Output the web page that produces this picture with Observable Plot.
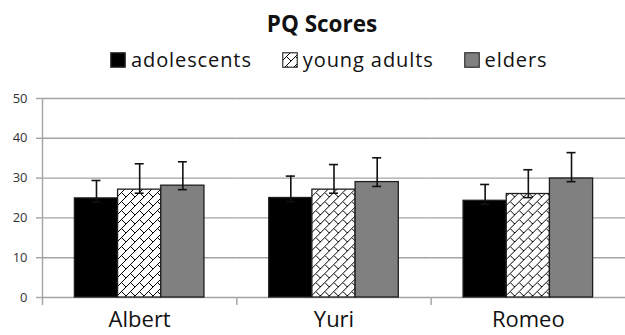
<!DOCTYPE html>
<html>
<head>
<meta charset="utf-8">
<script src="https://cdn.jsdelivr.net/npm/d3@7"></script>
<script src="https://cdn.jsdelivr.net/npm/@observablehq/plot@0.6"></script>
<style>
  html, body { margin: 0; padding: 0; background: #fff; }
  #page { position: relative; width: 625px; height: 335px; overflow: hidden; font-family: "Open Sans", sans-serif; color: #111; }
  #title { position: absolute; left: 0; width: 644px; top: 13px; text-align: center; font-size: 22.5px; line-height: 22px; font-weight: 700; }
  #legend { position: absolute; left: 110px; top: 50px; display: flex; align-items: center; font-size: 20px; line-height: 20px; letter-spacing: 0.9px; white-space: nowrap; }
  #legend .item { display: flex; align-items: center; margin-right: 30px; }
  #legend .item:last-child { margin-right: 0; }
  #legend svg { margin-right: 5px; }
  #chart { position: absolute; left: 0; top: 80px; }
</style>
</head>
<body>
<svg width="0" height="0" style="position:absolute">
  <defs>
    <!-- diagonal brick fill used for the "young adults" bars -->
    <pattern id="brick" width="9" height="9" patternUnits="userSpaceOnUse">
      <rect width="9" height="9" fill="#fff"/>
      <path d="M0,9L9,0M-2,2L2,-2M7,11L11,7M4.5,4.5L9,9" stroke="#000" stroke-width="1" fill="none"/>
    </pattern>
  </defs>
</svg>
<div id="page">
  <div id="title">PQ Scores</div>
  <div id="legend"></div>
  <div id="chart"></div>
</div>
<script>
// Groups along the x axis and the three age groups within each
const categories = ["Albert", "Yuri", "Romeo"];
const series = ["adolescents", "young adults", "elders"];

// Mean PQ score per group (order follows categories)
const adolescentsMean = [24.9, 25.0, 24.3];
const youngAdultsMean = [27.1, 27.1, 26.0];
const eldersMean = [28.1, 29.0, 29.9];

// Error bar ends
const adolescentsLow = [24.0, 24.1, 23.4];
const adolescentsHigh = [29.4, 30.5, 28.4];
const youngAdultsLow = [26.2, 26.2, 25.1];
const youngAdultsHigh = [33.6, 33.4, 32.1];
const eldersLow = [27.1, 27.9, 29.1];
const eldersHigh = [34.1, 35.1, 36.4];

const yTicks = [0, 10, 20, 30, 40, 50];

const fills = ["#000000", "url(#brick)", "#808080"];
const gridColor = "#a3a3a3";

const means = [adolescentsMean, youngAdultsMean, eldersMean];
const lows = [adolescentsLow, youngAdultsLow, eldersLow];
const highs = [adolescentsHigh, youngAdultsHigh, eldersHigh];

const rows = [];
categories.forEach((category, i) => {
  series.forEach((s, j) => {
    rows.push({category, series: s, mean: means[j][i], low: lows[j][i], high: highs[j][i]});
  });
});

// Legend
const legend = document.getElementById("legend");
series.forEach((s, j) => {
  const item = document.createElement("div");
  item.className = "item";
  item.innerHTML = `<svg width="16" height="16"><rect x="0.75" y="0.75" width="14.5" height="14.5" fill="${fills[j]}" stroke="#333" stroke-width="1.2"/></svg><span>${s}</span>`;
  legend.appendChild(item);
});

// Layout
const W = 625, H = 255, ML = 42, MR = 0;
const facetW = (W - ML - MR) / categories.length;
const xPadOuter = 0.75;
const step = facetW / (series.length + 2 * xPadOuter);
const edgeDx = -(xPadOuter + 0.5) * step;   // from first bar centre to group edge
const capInset = (step - 9) / 2;
const tickDepth = -2;                         // category ticks hang just below zero

const chart = Plot.plot({
  width: W,
  height: H,
  marginLeft: ML,
  marginRight: MR,
  marginTop: 18,
  marginBottom: 38,
  style: {fontFamily: "Open Sans, sans-serif", background: "transparent", overflow: "visible"},
  fx: {domain: categories, padding: 0, round: false},
  x: {domain: series, paddingInner: 0, paddingOuter: xPadOuter, round: false, axis: null},
  y: {domain: [0, 50]},
  color: {domain: series, range: fills},
  marks: [
    Plot.ruleY(yTicks, {stroke: gridColor, strokeWidth: 1.4}),
    Plot.ruleX(categories, {fx: d => d, x: () => series[0], y1: tickDepth, y2: 0, dx: edgeDx, stroke: gridColor, strokeWidth: 1.4}),
    Plot.ruleX([categories[0]], {fx: d => d, x: () => series[0], y1: 0, y2: 50, dx: edgeDx, stroke: gridColor, strokeWidth: 1.4}),
    Plot.barY(rows, {fx: "category", x: "series", y: "mean", fill: "series", stroke: "#1e1e1e", strokeWidth: 1.3}),
    Plot.ruleX(rows, {fx: "category", x: "series", y1: "low", y2: "high", stroke: "#111", strokeWidth: 1.6}),
    Plot.tickY(rows, {fx: "category", x: "series", y: "high", insetLeft: capInset, insetRight: capInset, stroke: "#111", strokeWidth: 1.6}),
    Plot.tickY(rows, {fx: "category", x: "series", y: "low", insetLeft: capInset, insetRight: capInset, stroke: "#111", strokeWidth: 1.6}),
    Plot.axisY(yTicks, {tickSize: 6, tickPadding: 9, stroke: gridColor, fill: "#333", fontSize: 13, label: null, strokeWidth: 1.4}),
    Plot.axisFx({anchor: "bottom", tickSize: 0, tickPadding: 14, fontSize: 22, fill: "#111", label: null})
  ]
});
document.getElementById("chart").appendChild(chart);
</script>
</body>
</html>
